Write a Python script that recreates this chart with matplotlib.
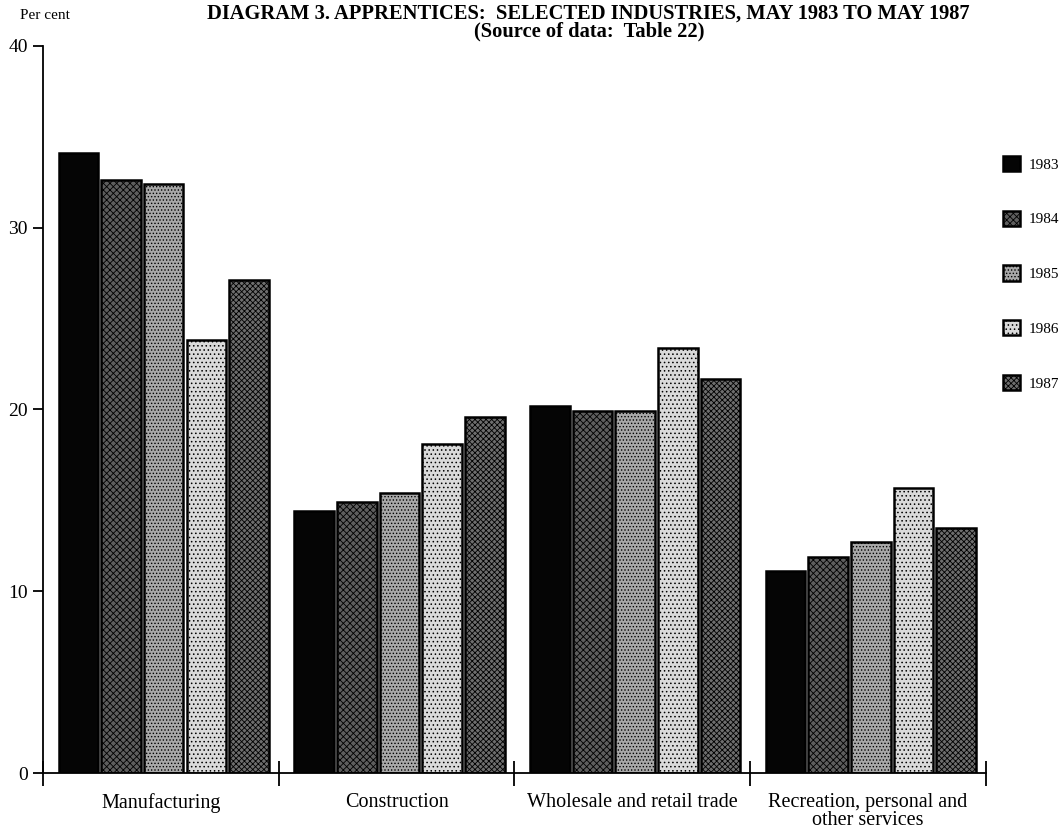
import matplotlib
matplotlib.use("Agg")
import matplotlib.pyplot as plt
import numpy as np

categories = ["Manufacturing", "Construction", "Wholesale and retail trade",
              "Recreation, personal and\nother services"]
years = ["1983", "1984", "1985", "1986", "1987"]
v1983 = [34.1, 14.4, 20.2, 11.1]
v1984 = [32.6, 14.9, 19.9, 11.9]
v1985 = [32.4, 15.4, 19.9, 12.7]
v1986 = [23.8, 18.1, 23.4, 15.7]
v1987 = [27.1, 19.6, 21.7, 13.5]
series = [v1983, v1984, v1985, v1986, v1987]
yticks = [0, 10, 20, 30, 40]

faces = ["#050505", "#5e5e5e", "#a8a8a8", "#dadada", "#6e6e6e"]
hatches = [None, "xxxxx", ".....", "....", "xxxxxx"]

plt.rcParams["font.family"] = ["Liberation Serif", "DejaVu Serif"]
plt.rcParams["hatch.linewidth"] = 0.6
plt.rcParams["hatch.color"] = "#222222"

fig = plt.figure(figsize=(10.59, 8.34), dpi=100)
ax = fig.add_axes([0.0406, 0.0731, 0.8904, 0.872])

x = np.arange(len(categories))
pitch = 0.181
width = 0.168
for i, (vals, fc, h) in enumerate(zip(series, faces, hatches)):
    ax.bar(x + (i - 2) * pitch + 0.012, vals, width, color=fc, hatch=h,
           edgecolor="black", linewidth=1.8, label=years[i])

ax.set_xlim(-0.5, 3.5)
ax.set_ylim(0, 40)
ax.spines["top"].set_visible(False)
ax.spines["right"].set_visible(False)
ax.spines["left"].set_linewidth(1.3)
ax.spines["bottom"].set_linewidth(1.3)
ax.set_yticks(yticks)
ax.set_yticklabels([str(t) for t in yticks], fontsize=14)
ax.tick_params(axis="y", length=7, width=1.3, pad=4)
ax.set_xticks(np.arange(-0.5, 3.6, 1.0))
ax.set_xticklabels([])
ax.tick_params(axis="x", direction="inout", length=18, width=1.3)
for xi, lab in zip(x, categories):
    ax.text(xi, -1.1, lab, ha="center", va="top", fontsize=14.5,
            transform=ax.transData, linespacing=0.92)

fig.text(0.019, 0.981, "Per cent", fontsize=11, ha="left", va="center")
fig.text(0.556, 0.984, "DIAGRAM 3. APPRENTICES:  SELECTED INDUSTRIES, MAY 1983 TO MAY 1987",
         fontsize=14.8, fontweight="bold", ha="center", va="center")
fig.text(0.556, 0.962, "(Source of data:  Table 22)", fontsize=14.8,
         fontweight="bold", ha="center", va="center")

leg = ax.legend(loc="upper left", bbox_to_anchor=(0.947, 0.813),
                bbox_transform=fig.transFigure, frameon=False, borderpad=0,
                handlelength=1.15, handleheight=1.15, labelspacing=2.55,
                handletextpad=0.55, borderaxespad=0, prop={"size": 11})

fig.savefig("out.png", dpi=100)
